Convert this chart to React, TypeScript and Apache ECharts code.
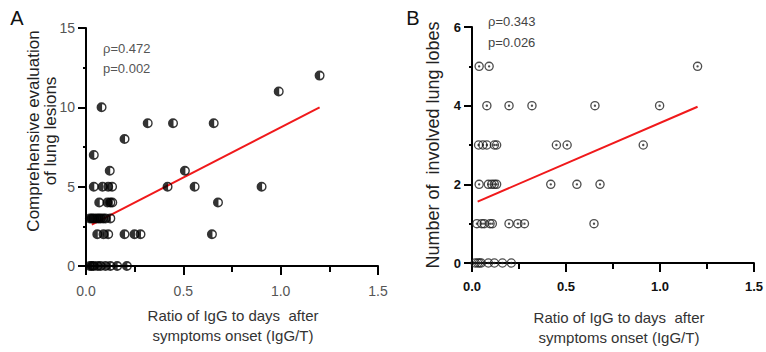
import React, { useEffect, useRef } from "react";
import * as echarts from "echarts";

// Panel A: comprehensive evaluation of lung lesions vs IgG/T
const aX = [
  1.2, 0.99, 0.08, 0.317, 0.447, 0.656, 0.198, 0.04, 0.122, 0.508,
  0.04, 0.085, 0.114, 0.134, 0.419, 0.558, 0.902,
  0.068, 0.11, 0.125, 0.135, 0.678,
  0.02, 0.03, 0.04, 0.054, 0.065, 0.075, 0.088, 0.1, 0.125,
  0.058, 0.09, 0.114, 0.198, 0.249, 0.28, 0.647,
  0.02, 0.03, 0.04, 0.06, 0.075, 0.1, 0.125, 0.16, 0.21,
];
const aY = [
  12, 11, 10, 9, 9, 9, 8, 7, 6, 6,
  5, 5, 5, 5, 5, 5, 5,
  4, 4, 4, 4, 4,
  3, 3, 3, 3, 3, 3, 3, 3, 3,
  2, 2, 2, 2, 2, 2, 2,
  0, 0, 0, 0, 0, 0, 0, 0, 0,
];
const aFit = { slope: 6.32, intercept: 2.42, from: 0.03, to: 1.2 };
const aStats = ["ρ=0.472", "p=0.002"];

// Panel B: number of involved lung lobes vs IgG/T
const bX = [
  0.038, 0.091, 1.2,
  0.079, 0.197, 0.319, 0.654, 0.998,
  0.035, 0.058, 0.079, 0.119, 0.131, 0.449, 0.506, 0.911,
  0.038, 0.087, 0.105, 0.119, 0.131, 0.419, 0.558, 0.681,
  0.026, 0.052, 0.065, 0.096, 0.108, 0.197, 0.244, 0.279, 0.649,
  0.017, 0.03, 0.04, 0.049, 0.087, 0.119, 0.162, 0.209,
];
const bY = [
  5, 5, 5,
  4, 4, 4, 4, 4,
  3, 3, 3, 3, 3, 3, 3, 3,
  2, 2, 2, 2, 2, 2, 2, 2,
  1, 1, 1, 1, 1, 1, 1, 1, 1,
  0, 0, 0, 0, 0, 0, 0, 0,
];
const bFit = { slope: 2.06, intercept: 1.5, from: 0.03, to: 1.2 };
const bStats = ["ρ=0.343", "p=0.026"];

const xTitle = "Ratio of IgG to days  after\nsymptoms onset (IgG/T)";
const aYTitle = "Comprehensive evaluation\nof lung lesions";
const bYTitle = "Number of  involved lung lobes";

const FONT = "'Liberation Sans', Arial, sans-serif";

const halfFilled =
  "path://M10 0A10 10 0 1 1 10 20A10 10 0 1 1 10 0ZM11 3.8L11 16.2A6.2 6.2 0 0 0 11 3.8Z";
const dotted =
  "path://M10 0A10 10 0 1 1 10 20A10 10 0 1 1 10 0ZM10 2.8A7.2 7.2 0 1 0 10 17.2A7.2 7.2 0 1 0 10 2.8ZM10 7.5A2.5 2.5 0 1 1 10 12.5A2.5 2.5 0 1 1 10 7.5Z";

function zip(xs: number[], ys: number[]) {
  return xs.map((x, i) => [x, ys[i]]);
}
function fitLine(f: { slope: number; intercept: number; from: number; to: number }) {
  return [
    [f.from, f.intercept + f.slope * f.from],
    [f.to, f.intercept + f.slope * f.to],
  ];
}

const axisLine = { show: true, onZero: false, lineStyle: { color: "#000", width: 2 } };

function xAxisCfg(gridIndex: number, bold: boolean) {
  return {
    type: "value",
    gridIndex,
    min: 0,
    max: 1.5,
    interval: 0.5,
    axisLine,
    axisTick: { show: true, length: 9, lineStyle: { color: "#000", width: 2 } },
    minorTick: { show: true, splitNumber: 2, length: 6, lineStyle: { color: "#000", width: 2 } },
    splitLine: { show: false },
    minorSplitLine: { show: false },
    axisLabel: {
      formatter: (v: number) => v.toFixed(1),
      color: bold ? "#111" : "#555",
      fontWeight: bold ? "bold" : "normal",
      fontSize: bold ? 13 : 14,
      fontFamily: FONT,
      margin: bold ? 17 : 18,
    },
  };
}
function yAxisCfg(gridIndex: number, max: number, interval: number, bold: boolean) {
  return {
    type: "value",
    gridIndex,
    min: 0,
    max,
    interval,
    axisLine,
    axisTick: { show: true, length: 8, lineStyle: { color: "#000", width: 2 } },
    minorTick: { show: true, splitNumber: 2, length: 3, lineStyle: { color: "#000", width: 2 } },
    splitLine: { show: false },
    minorSplitLine: { show: false },
    axisLabel: {
      color: bold ? "#111" : "#555",
      fontWeight: bold ? "bold" : "normal",
      fontSize: bold ? 13 : 14,
      fontFamily: FONT,
      margin: 11,
    },
  };
}

export default function App() {
  const ref = useRef<HTMLDivElement>(null);
  useEffect(() => {
    if (!ref.current) return;
    const chart = echarts.init(ref.current, null, { renderer: "svg" });
    const textStyle = (extra: any) => ({ fontFamily: FONT, fill: "#111", ...extra });
    chart.setOption({
      animation: false,
      backgroundColor: "#fff",
      grid: [
        { left: 86, top: 28, width: 292, height: 238 },
        { left: 472, top: 27, width: 286, height: 236 },
      ],
      xAxis: [xAxisCfg(0, false), xAxisCfg(1, true)],
      yAxis: [yAxisCfg(0, 15, 5, false), yAxisCfg(1, 6, 2, true)],
      series: [
        {
          type: "line",
          xAxisIndex: 0,
          yAxisIndex: 0,
          data: fitLine(aFit),
          showSymbol: false,
          symbol: "none",
          lineStyle: { color: "#f0191b", width: 2 },
          z: 1,
        },
        {
          type: "scatter",
          xAxisIndex: 0,
          yAxisIndex: 0,
          data: zip(aX, aY),
          symbol: halfFilled,
          symbolSize: 10,
          itemStyle: { color: "#000" },
          z: 3,
        },
        {
          type: "line",
          xAxisIndex: 1,
          yAxisIndex: 1,
          data: fitLine(bFit),
          showSymbol: false,
          symbol: "none",
          lineStyle: { color: "#f0191b", width: 2 },
          z: 1,
        },
        {
          type: "scatter",
          xAxisIndex: 1,
          yAxisIndex: 1,
          data: zip(bX, bY),
          symbol: dotted,
          symbolSize: 9.5,
          itemStyle: { color: "#222" },
          z: 3,
        },
      ],
      graphic: [
        { type: "text", x: 17, y: 18, style: textStyle({ text: "A", fontSize: 20, textAlign: "center", textVerticalAlign: "middle" }) },
        { type: "text", x: 413, y: 18, style: textStyle({ text: "B", fontSize: 20, textAlign: "center", textVerticalAlign: "middle" }) },
        {
          type: "text",
          x: 41.5,
          y: 131,
          rotation: Math.PI / 2,
          style: textStyle({ text: aYTitle, fontSize: 17, lineHeight: 17, textAlign: "center", textVerticalAlign: "middle", fill: "#222" }),
        },
        {
          type: "text",
          x: 433,
          y: 145,
          rotation: Math.PI / 2,
          style: textStyle({ text: bYTitle, fontSize: 18, textAlign: "center", textVerticalAlign: "middle", fill: "#222" }),
        },
        {
          type: "text",
          x: 233,
          y: 325,
          style: textStyle({ text: xTitle, fontSize: 15, lineHeight: 20, textAlign: "center", textVerticalAlign: "middle", fill: "#333" }),
        },
        {
          type: "text",
          x: 619,
          y: 327,
          style: textStyle({ text: xTitle, fontSize: 15, lineHeight: 20, textAlign: "center", textVerticalAlign: "middle", fill: "#333" }),
        },
        { type: "text", x: 103, y: 48, style: textStyle({ text: aStats[0], fontSize: 13, textVerticalAlign: "middle", fill: "#555" }) },
        { type: "text", x: 103, y: 68, style: textStyle({ text: aStats[1], fontSize: 13, textVerticalAlign: "middle", fill: "#555" }) },
        { type: "text", x: 488, y: 21, style: textStyle({ text: bStats[0], fontSize: 13, textVerticalAlign: "middle", fill: "#444" }) },
        { type: "text", x: 488, y: 42, style: textStyle({ text: bStats[1], fontSize: 13, textVerticalAlign: "middle", fill: "#444" }) },
      ],
    });
    return () => chart.dispose();
  }, []);
  return (
    <div
      ref={ref}
      style={{ position: "fixed", left: 0, top: 0, width: 766, height: 352, background: "#fff" }}
    />
  );
}
